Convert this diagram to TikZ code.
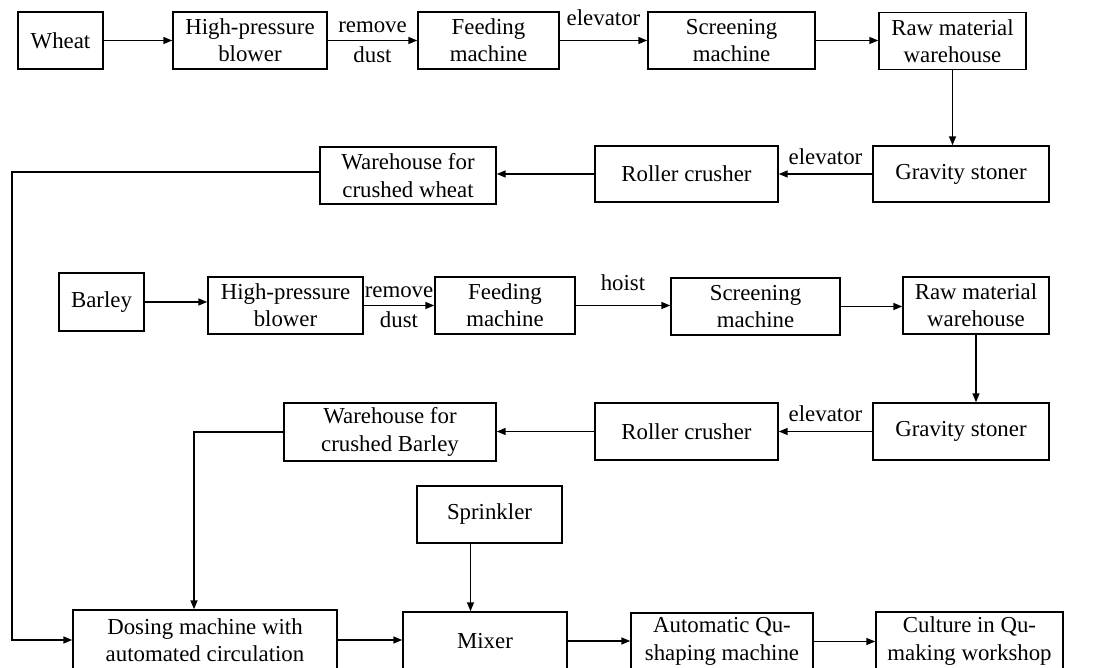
\documentclass[tikz,border=0pt]{standalone}
\usepackage{fontspec}
\setmainfont{Liberation Serif}
\usetikzlibrary{arrows.meta}
\begin{document}
\begin{tikzpicture}[x=0.02cm,y=-0.02cm,line width=0.85pt,>={Triangle[length=1.8mm,width=1.4mm]},
		box/.style={draw,align=center,inner sep=1pt,minimum height=1.14cm,font=\fontsize{13}{15.5}\selectfont},
		lbl/.style={font=\fontsize{13}{15.5}\selectfont,inner sep=1pt}]
		\useasboundingbox (0,0) rectangle (1117,668);
		% wheat line
		\node[box,minimum width=1.7cm] (wheat) at (60.5,40.5) {Wheat};
		\node[box,minimum width=3.08cm] (blowA) at (250,40.5) {High-pressure\\blower};
		\node[box,minimum width=2.82cm] (feedA) at (488.5,40.5) {Feeding\\machine};
		\node[box,minimum width=3.34cm] (screenA) at (731.5,40.5) {Screening\\machine};
		\node[box,minimum width=2.94cm] (rawA) at (952.5,41) {Raw material\\warehouse};
		\node[box,minimum width=3.52cm,minimum height=1.12cm] (stoneA) at (961,174) {Gravity stoner};
		\node[box,minimum width=3.66cm,minimum height=1.12cm] (rollA) at (686.5,174) {Roller crusher};
		\node[box,minimum width=3.52cm] (wareA) at (408,175.5) {Warehouse for\\crushed wheat};
		\draw[->] (wheat) -- (blowA);
		\draw[->] (blowA) -- node[lbl,above=3pt] {remove} node[lbl,below=2pt] {dust} (feedA);
		\draw[->] (feedA) -- node[lbl,above=7pt] {elevator} (screenA);
		\draw[->] (screenA.east) -- (screenA.east -| rawA.west);
		\draw[->] (rawA.south) -- (rawA.south |- stoneA.north);
		\draw[->] (stoneA) -- node[lbl,above=4pt] {elevator} (rollA);
		\draw[->] (rollA.west) -- (rollA.west -| wareA.east);
		% barley line
		\node[box,minimum width=1.7cm,minimum height=1.16cm] (barley) at (101.5,302) {Barley};
		\node[box,minimum width=3.1cm] (blowB) at (285.5,305.5) {High-pressure\\blower};
		\node[box,minimum width=2.8cm] (feedB) at (505,305.5) {Feeding\\machine};
		\node[box,minimum width=3.38cm] (screenB) at (755.5,306.5) {Screening\\machine};
		\node[box,minimum width=2.92cm] (rawB) at (976,305.5) {Raw material\\warehouse};
		\node[box,minimum width=3.52cm] (stoneB) at (961,431.5) {Gravity stoner};
		\node[box,minimum width=3.66cm] (rollB) at (686.5,431.5) {Roller crusher};
		\node[box,minimum width=4.24cm,minimum height=1.16cm] (wareB) at (390,432) {Warehouse for\\crushed Barley};
		\draw[->] (barley.east) -- (barley.east -| blowB.west);
		\draw[->] (blowB) -- node[lbl,above=3pt] {remove} node[lbl,below=2pt] {dust} (feedB);
		\draw[->] (feedB) -- node[lbl,above=7pt] {hoist} (feedB -| screenB.west);
		\draw[->] (screenB.east) -- (screenB.east -| rawB.west);
		\draw[->] (rawB.south) -- (rawB.south |- stoneB.north);
		\draw[->] (stoneB) -- node[lbl,above=4pt] {elevator} (rollB);
		\draw[->] (rollB.west) -- (rollB.west -| wareB.east);
		% mixing line
		\node[box,minimum width=2.9cm] (sprink) at (489.5,514.5) {Sprinkler};
		\node[box,minimum width=5.28cm,minimum height=1.2cm] (dosing) at (205,640) {Dosing machine with\\automated circulation};
		\node[box,minimum width=3.28cm,minimum height=1.16cm] (mixer) at (485,641) {Mixer};
		\node[box,minimum width=3.64cm,minimum height=1.14cm] (shape) at (722,641.5) {Automatic Qu-\\shaping machine};
		\node[box,minimum width=3.74cm,minimum height=1.16cm] (culture) at (969.5,641) {Culture in Qu-\\making workshop};
		\coordinate (leftA) at (12,172);
		\draw[->] (wareA.west |- leftA) -- (leftA) |- (dosing.west);
		\draw[->] (wareB.west) -| ([xshift=-0.22cm]dosing.north);
		\draw[->] ([xshift=-0.38cm]sprink.south) -- ([xshift=-0.38cm]sprink.south |- mixer.north);
		\draw[->] (dosing.east) -- (dosing.east -| mixer.west);
		\draw[->] (mixer.east) -- (mixer.east -| shape.west);
		\draw[->] (shape.east) -- (shape.east -| culture.west);
	\end{tikzpicture}
\end{document}
